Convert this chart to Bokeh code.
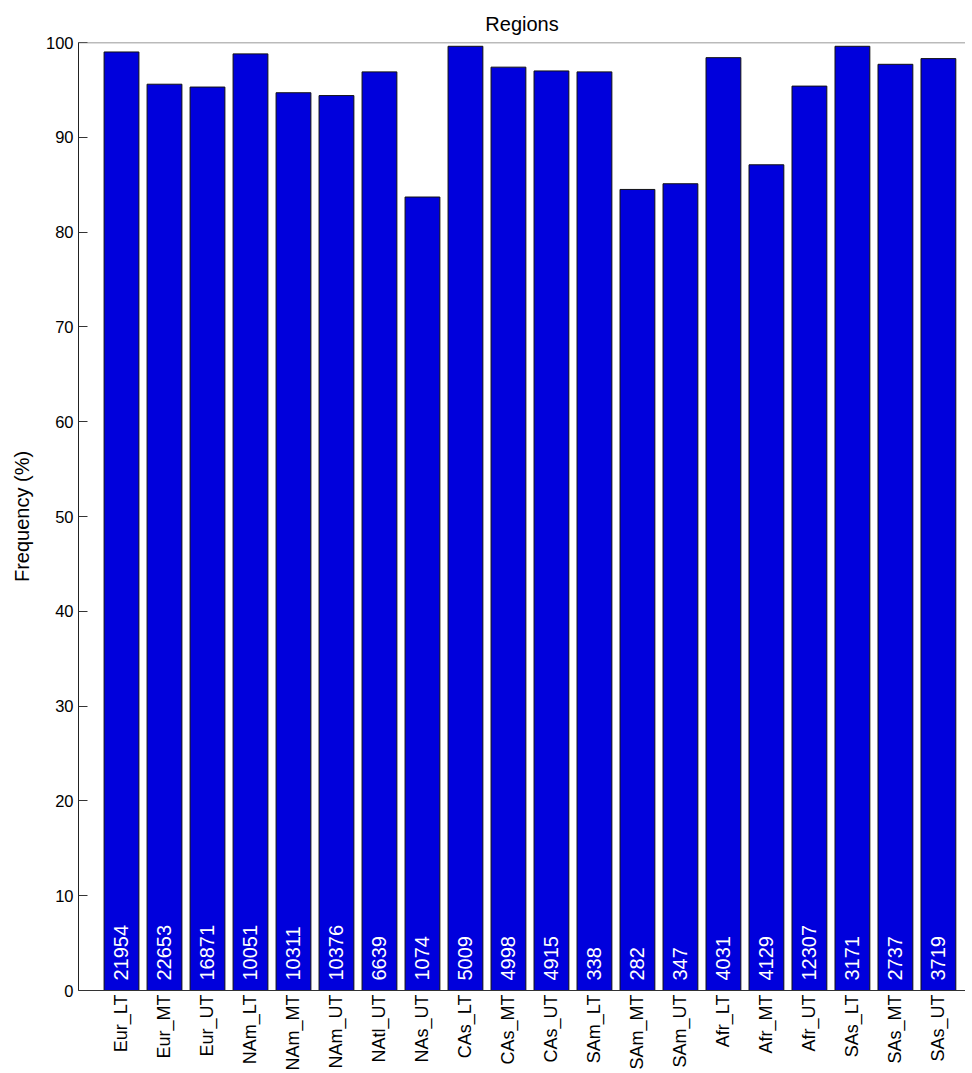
from math import pi

from bokeh.plotting import figure
from bokeh.models import ColumnDataSource, FixedTicker, Span
from bokeh.core.properties import value
from bokeh.embed import file_html
from bokeh.resources import INLINE

regions = [
    "Eur_LT", "Eur_MT", "Eur_UT", "NAm_LT", "NAm_MT", "NAm_UT", "NAtl_UT",
    "NAs_UT", "CAs_LT", "CAs_MT", "CAs_UT", "SAm_LT", "SAm_MT", "SAm_UT",
    "Afr_LT", "Afr_MT", "Afr_UT", "SAs_LT", "SAs_MT", "SAs_UT",
]
frequency = [
    99.0, 95.6, 95.3, 98.8, 94.7, 94.4, 96.9, 83.7, 99.6, 97.4,
    97.0, 96.9, 84.5, 85.1, 98.4, 87.1, 95.4, 99.6, 97.7, 98.3,
]
counts = [
    21954, 22653, 16871, 10051, 10311, 10376, 6639, 1074, 5009, 4998,
    4915, 338, 282, 347, 4031, 4129, 12307, 3171, 2737, 3719,
]
y_ticks = [0, 10, 20, 30, 40, 50, 60, 70, 80, 90, 100]

FONT = "Liberation Sans"
BAR_BLUE = "#0000DC"

# bars sit on integer positions 1..n, labels are overridden with region names
pos = list(range(1, len(regions) + 1))
source = ColumnDataSource(
    dict(
        x=pos,
        top=frequency,
        base=[0] * len(pos),
        label=[str(c) for c in counts],
    )
)

p = figure(
    frame_width=887,
    frame_height=948,
    x_range=(0, 20.63),
    y_range=(0, 100),
    title="Regions",
    output_backend="svg",
    toolbar_location=None,
    min_border=0,
    margin=(3, 0, 0, 7),
)

# styling
p.outline_line_color = None
p.grid.grid_line_color = None
p.background_fill_color = "white"
p.border_fill_color = "white"

p.title.align = "center"
p.title.text_font = FONT
p.title.text_font_size = "20px"
p.title.text_font_style = "normal"
p.title.text_color = "black"
p.title.standoff = 15

# --- y axis ---
p.yaxis.ticker = FixedTicker(ticks=y_ticks)
p.yaxis.minor_tick_line_color = None
p.yaxis.major_tick_in = 9
p.yaxis.major_tick_out = 0
p.yaxis.major_tick_line_color = "#333333"
p.yaxis.axis_line_color = "#222222"
p.yaxis.major_label_text_font = FONT
p.yaxis.major_label_text_font_size = "16.5px"
p.yaxis.major_label_text_color = "black"
p.yaxis.major_label_standoff = 5
p.yaxis.axis_label = "Frequency (%)"
p.yaxis.axis_label_text_font = FONT
p.yaxis.axis_label_text_font_size = "20px"
p.yaxis.axis_label_text_font_style = "normal"
p.yaxis.axis_label_text_color = "black"
p.yaxis.axis_label_standoff = 10

# --- x axis ---
p.xaxis.ticker = FixedTicker(ticks=pos)
p.xaxis.major_label_overrides = {i: r for i, r in zip(pos, regions)}
p.xaxis.major_label_orientation = pi / 2
p.xaxis.minor_tick_line_color = None
p.xaxis.major_tick_in = 0
p.xaxis.major_tick_out = 0
p.xaxis.axis_line_color = "#333333"
p.xaxis.major_label_text_font = FONT
p.xaxis.major_label_text_font_size = "18px"
p.xaxis.major_label_text_color = "black"
p.xaxis.major_label_standoff = 4

# top frame line
p.add_layout(Span(location=100, dimension="width", line_color="#777777", line_width=1.5))

# --- bars ---
p.vbar(
    x="x",
    top="top",
    bottom="base",
    width=0.81,
    source=source,
    fill_color=BAR_BLUE,
    line_color="#111111",
    line_width=1,
)

# --- sample counts written inside each bar ---
p.text(
    x="x",
    y="base",
    text="label",
    source=source,
    angle=pi / 2,
    text_align="left",
    text_baseline="middle",
    y_offset=-10,
    text_color="white",
    text_font=value(FONT),
    text_font_size="20px",
)

open("out.html", "w").write(file_html(p, INLINE))
